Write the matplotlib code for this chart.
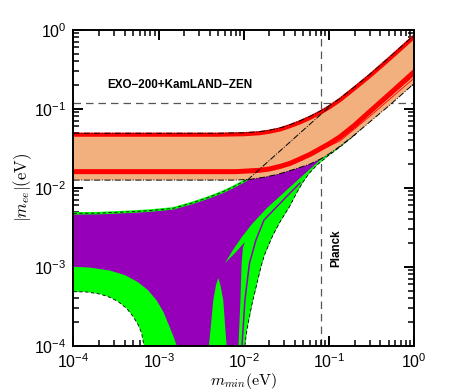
import matplotlib.pyplot as plt

plt.rcParams['font.family'] = ['Liberation Sans', 'DejaVu Sans']
plt.rcParams['mathtext.fontset'] = 'cm'

# inverted hierarchy band (orange) - boundaries
ih_up_x = [1e-4, 5e-3, 0.01, 0.015, 0.02, 0.027, 0.035, 0.045, 0.06, 0.078, 0.1,
           0.134, 0.2, 0.3, 0.5, 1.0]
ih_up_y = [0.049, 0.049, 0.0497, 0.0512, 0.0535, 0.0575, 0.063, 0.070, 0.0805, 0.093,
           0.109, 0.135, 0.19, 0.272, 0.44, 0.86]
ih_lo_x = [1e-4, 0.008, 0.012, 0.018, 0.025, 0.035, 0.045, 0.06, 0.08, 0.1, 0.134,
           0.2, 0.3, 0.5, 1.0]
ih_lo_y = [0.0125, 0.0125, 0.0128, 0.0137, 0.0148, 0.0165, 0.018, 0.020, 0.0232, 0.0268,
           0.0335, 0.047, 0.068, 0.108, 0.21]

# red lines inside the IH band
red_up_y = [0.047, 0.047, 0.0477, 0.049, 0.0513, 0.055, 0.0605, 0.067, 0.077, 0.089,
            0.104, 0.129, 0.182, 0.26, 0.42, 0.82]
red_lo_x = [1e-4, 0.008, 0.015, 0.02, 0.027, 0.035, 0.045, 0.06, 0.078, 0.1, 0.134,
            0.2, 0.3, 0.5, 1.0]
red_lo_y = [0.016, 0.016, 0.0166, 0.0173, 0.0187, 0.0204, 0.023, 0.0265, 0.031, 0.036,
            0.044, 0.062, 0.092, 0.15, 0.294]
thin1_x = [0.046, 0.134, 0.3, 1.0]
thin1_y = [0.023, 0.041, 0.086, 0.265]
thin2_y = [0.023, 0.039, 0.080, 0.245]

# m_ee = m_min guide
diag_x = [0.011, 0.1]
diag_y = [0.0125, 0.105]

# normal hierarchy (green envelope)
nh_up_x = [1e-4, 2.05e-4, 4.6e-4, 7.9e-4, 1.47e-3, 2.33e-3, 3.59e-3, 4.58e-3, 5.69e-3,
           7.45e-3, 9.76e-3, 0.02, 0.05, 0.2, 1.0]
nh_up_y = [4.74e-3, 4.78e-3, 4.97e-3, 5.14e-3, 5.48e-3, 6.3e-3, 7.35e-3, 8.1e-3, 8.9e-3,
           0.0102, 0.0119, 0.019, 0.045, 0.15, 0.7]
nh_lo_left_x = [1e-4, 1.43e-4, 2.05e-4, 2.68e-4, 3.36e-4, 4.21e-4, 5.04e-4, 5.77e-4,
                6.31e-4, 6.71e-4]
nh_lo_left_y = [4.83e-4, 4.79e-4, 4.51e-4, 4.10e-4, 3.61e-4, 2.97e-4, 2.33e-4, 1.83e-4,
                1.44e-4, 1.02e-4]
nh_lo_right_x = [0.0103, 0.01059, 0.0109, 0.0118, 0.01262, 0.0135, 0.01466, 0.0159,
                 0.01746, 0.0192, 0.02198, 0.0266, 0.0348, 0.0409, 0.0494, 0.0581,
                 0.0721, 0.097, 0.134, 0.201, 0.3, 1.0]
nh_lo_right_y = [1.0e-4, 1.29e-4, 1.6e-4, 2.5e-4, 3.57e-4, 4.8e-4, 6.98e-4, 1.0e-3,
                 1.41e-3, 1.8e-3, 2.52e-3, 3.7e-3, 5.9e-3, 8.32e-3, 0.0118, 0.0151,
                 0.0194, 0.0252, 0.0327, 0.0465, 0.075, 0.25]

# purple region lower edge on the left
pu_lo_x = [1e-4, 1.56e-4, 2.68e-4, 4.02e-4, 5.71e-4, 7.48e-4, 9.42e-4, 1.14e-3, 1.32e-3,
           1.49e-3, 1.63e-3]
pu_lo_y = [1.0e-3, 9.77e-4, 8.95e-4, 7.85e-4, 6.40e-4, 5.07e-4, 3.79e-4, 2.67e-4, 1.82e-4,
           1.32e-4, 1.0e-4]

# green spike inside the purple
spike_x = [3.89e-3, 4.06e-3, 4.38e-3, 4.71e-3, 5.01e-3, 5.31e-3, 5.73e-3, 6.08e-3, 6.28e-3]
spike_y = [1e-4, 1.58e-4, 3.79e-4, 5.86e-4, 7.19e-4, 5.86e-4, 3.79e-4, 1.58e-4, 1e-4]

# green wedge + strips near the right edge (left outline)
band_x = [8.65e-3, 9.12e-3, 9.42e-3, 9.75e-3, 0.0103, 7.87e-3, 6.0e-3, 7.45e-3,
          9.48e-3, 0.01245, 0.01866, 0.0348, 0.0782]
band_y = [1e-4, 3.79e-4, 1.11e-3, 1.73e-3, 2.06e-3, 1.49e-3, 1.11e-3, 1.63e-3,
          2.38e-3, 3.47e-3, 5.53e-3, 0.0102, 0.0224]

# thin purple line between the green strips
pl_x = [9.51e-3, 0.0103, 0.01164, 0.01387, 0.01722, 0.0348, 0.0455]
pl_y = [1e-4, 3.79e-4, 1.11e-3, 2.18e-3, 3.90e-3, 8.57e-3, 0.01146]

exo_limit = 0.12
planck_limit = 0.08
FLOOR = 1e-6

orange = '#f2b07e'
green = '#00ff00'
purple = '#9500b8'

fig = plt.figure(figsize=(4.59, 3.92), dpi=100)
ax = fig.add_axes([0.160, 0.118, 0.7425, 0.806])
ax.set_xscale('log')
ax.set_yscale('log')

# reference limits (drawn under the bands)
ax.axhline(exo_limit, color='#555555', ls=(0, (6, 4)), lw=0.9, zorder=1)
ax.axvline(planck_limit, color='#555555', ls=(0, (6, 4)), lw=0.9, zorder=1)

# NH envelope
rev = lambda a: a[::-1]
env_x = nh_up_x + rev(nh_lo_right_x) + [nh_lo_right_x[0], nh_lo_left_x[-1]] + rev(nh_lo_left_x)
env_y = nh_up_y + rev(nh_lo_right_y) + [FLOOR, FLOOR] + rev(nh_lo_left_y)
ax.fill(env_x, env_y, color=green, lw=0, zorder=2)

pur_x = nh_up_x + rev(nh_lo_right_x) + [nh_lo_right_x[0], pu_lo_x[-1]] + rev(pu_lo_x)
pur_y = nh_up_y + rev(nh_lo_right_y) + [FLOOR, FLOOR] + rev(pu_lo_y)
ax.fill(pur_x, pur_y, color=purple, lw=0, zorder=3)

ax.fill([spike_x[0]] + spike_x + [spike_x[-1]], [FLOOR] + spike_y + [FLOOR],
        color=green, lw=0, zorder=4)
ax.fill([band_x[0]] + band_x + rev(nh_lo_right_x) + [nh_lo_right_x[0]],
        [FLOOR] + band_y + rev(nh_lo_right_y) + [FLOOR],
        color=green, lw=0, zorder=4)
ax.plot([pl_x[0]] + pl_x, [FLOOR] + pl_y, color=purple, lw=1.1, zorder=5)

ax.plot(nh_up_x, nh_up_y, color=green, lw=1.8, zorder=6)
for bx, by in [(nh_up_x, nh_up_y), (nh_lo_left_x, nh_lo_left_y), (nh_lo_right_x, nh_lo_right_y)]:
    ax.plot(bx, by, color='k', ls=(0, (4, 3)), lw=0.6, zorder=6)

# IH band
ih_x = ih_up_x + rev(ih_lo_x)
ih_y = ih_up_y + rev(ih_lo_y)
ax.fill(ih_x, ih_y, color=orange, lw=0, zorder=7)
ax.plot(ih_up_x, red_up_y, color='red', lw=3.0, zorder=8)
ax.plot(red_lo_x, red_lo_y, color='red', lw=3.6, zorder=8)
ax.plot(thin1_x, thin1_y, color='red', lw=0.6, zorder=8)
ax.plot(thin1_x, thin2_y, color='red', lw=0.6, zorder=8)
ax.plot(ih_up_x, ih_up_y, color='k', ls='-.', lw=0.7, zorder=9)
ax.plot(ih_lo_x, ih_lo_y, color='k', ls='-.', lw=0.7, zorder=9)
ax.plot(diag_x, diag_y, color='k', ls='-.', lw=0.7, zorder=9)

ax.text(2.5e-4, 0.2, 'EXO\u2212200+KamLAND\u2212ZEN', fontsize=8.4,
        fontweight='bold', ha='left', va='center', zorder=10)
ax.text(0.123, 1.73e-3, 'Planck', fontsize=8.4, fontweight='bold',
        rotation=90, ha='center', va='center', zorder=10)

ax.set_xlim(1e-4, 1)
ax.set_ylim(1e-4, 1)
ax.set_xlabel(r'$m_{min}(\mathrm{eV})$', fontsize=11.5, labelpad=0)
ax.set_ylabel(r'$|m_{ee}|(\mathrm{eV})$', fontsize=12, labelpad=0)

for s in ax.spines.values():
    s.set_linewidth(1.4)
    s.set_zorder(12)
ax.tick_params(which='both', direction='in', top=True, right=True, labelsize=11.5)
ax.tick_params(which='major', length=7, width=1.4, pad=5)
ax.tick_params(which='minor', length=4.5, width=1.1)

fig.savefig('out.png', dpi=100)
